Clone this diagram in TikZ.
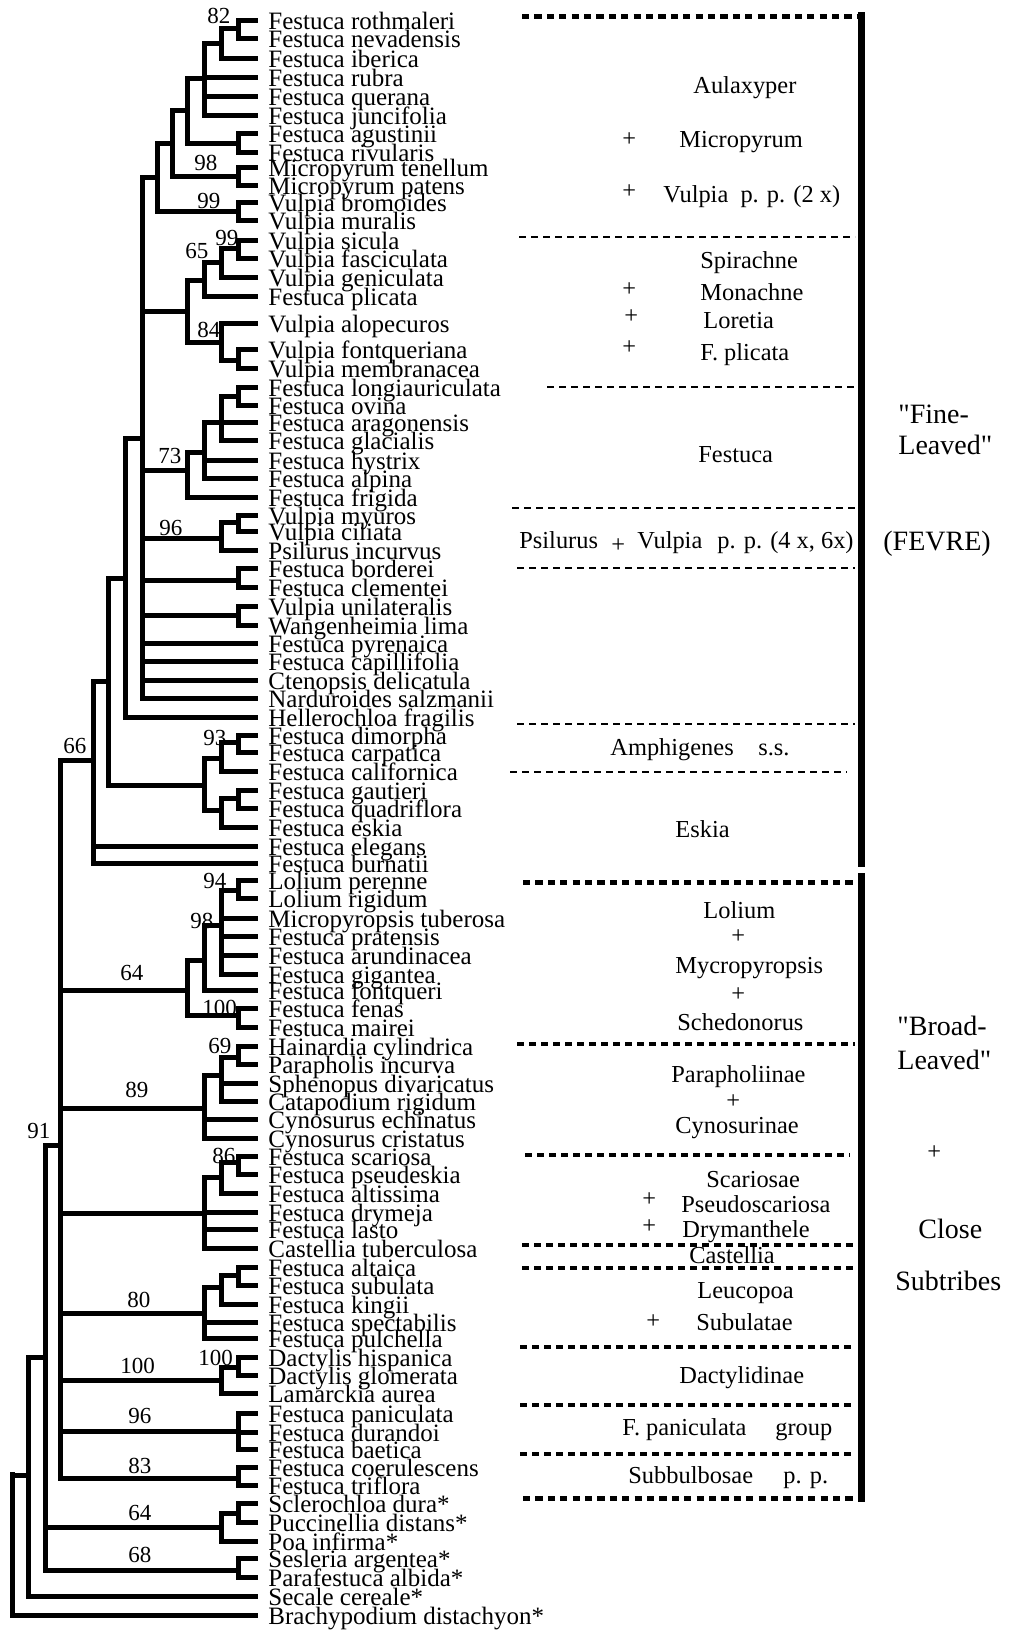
\documentclass[tikz,border=0pt]{standalone}
\usepackage{fontspec}
\setmainfont{Liberation Serif}
\newfontfamily\qfont{Liberation Serif}
\begin{document}
\begin{tikzpicture}[x=0.5pt,y=-0.5pt,
  tree/.style={line width=2.5pt,line cap=rect,line join=miter},
  leaf/.style={font=\fontsize{12.5}{14}\selectfont,inner sep=0pt,anchor=base west},
  grp/.style={font=\fontsize{12.2}{14}\selectfont,inner sep=0pt,anchor=base west},
  big/.style={font=\qfont\fontsize{14}{16}\selectfont,inner sep=0pt,anchor=base west},
  boot/.style={font=\fontsize{11.5}{13}\selectfont,inner sep=0pt,anchor=base west},
  thinsep/.style={line width=1.15pt,dash pattern=on 3.5pt off 2.5pt},
  midsep/.style={line width=2pt,dash pattern=on 3.5pt off 2.5pt},
  heavysep/.style={line width=2.5pt,dash pattern=on 3.6pt off 2.6pt},
  bar/.style={line width=3.5pt}
]
\useasboundingbox (0,0) rectangle (1011,1630);
\fill[white] (0,0) rectangle (1011,1630);

% leaves
\foreach \n/\y/\t in {
1/20/Festuca rothmaleri,
2/38/Festuca nevadensis,
3/58/Festuca iberica,
4/77/Festuca rubra,
5/96/Festuca querana,
6/115/Festuca juncifolia,
7/133/Festuca agustinii,
8/152/Festuca rivularis,
9/167/Micropyrum tenellum,
10/185/Micropyrum patens,
11/202/Vulpia bromoides,
12/220/Vulpia muralis,
13/240/Vulpia sicula,
14/258/Vulpia fasciculata,
15/277/Vulpia geniculata,
16/296/Festuca plicata,
17/323/Vulpia alopecuros,
18/349/Vulpia fontqueriana,
19/368/Vulpia membranacea,
20/387/Festuca longiauriculata,
21/405/Festuca ovina,
22/422/Festuca aragonensis,
23/440/Festuca glacialis,
24/460/Festuca hystrix,
25/478/Festuca alpina,
26/497/Festuca frigida,
27/515/Vulpia myuros,
28/531/Vulpia ciliata,
29/550/Psilurus incurvus,
30/568/Festuca borderei,
31/587/Festuca clementei,
32/606/Vulpia unilateralis,
33/625/Wangenheimia lima,
34/643/Festuca pyrenaica,
35/661/Festuca capillifolia,
36/680/Ctenopsis delicatula,
37/698/Narduroides salzmanii,
38/717/Hellerochloa fragilis,
39/735/Festuca dimorpha,
40/752/Festuca carpatica,
41/771/Festuca californica,
42/790/Festuca gautieri,
43/808/Festuca quadriflora,
44/827/Festuca eskia,
45/846/Festuca elegans,
46/863/Festuca burnatii,
47/880/Lolium perenne,
48/898/Lolium rigidum,
49/918/Micropyropsis tuberosa,
50/936/Festuca pratensis,
51/955/Festuca arundinacea,
52/974/Festuca gigantea,
53/990/Festuca fontqueri,
54/1008/Festuca fenas,
55/1027/Festuca mairei,
56/1046/Hainardia cylindrica,
57/1064/Parapholis incurva,
58/1083/Sphenopus divaricatus,
59/1101/Catapodium rigidum,
60/1119/Cynosurus echinatus,
61/1138/Cynosurus cristatus,
62/1156/Festuca scariosa,
63/1174/Festuca pseudeskia,
64/1193/Festuca altissima,
65/1212/Festuca drymeja,
66/1229/Festuca lasto,
67/1248/Castellia tuberculosa,
68/1267/Festuca altaica,
69/1285/Festuca subulata,
70/1304/Festuca kingii,
71/1322/Festuca spectabilis,
72/1338/Festuca pulchella,
73/1357/Dactylis hispanica,
74/1375/Dactylis glomerata,
75/1393/Lamarckia aurea,
76/1413/Festuca paniculata,
77/1432/Festuca durandoi,
78/1449/Festuca baetica,
79/1467/Festuca coerulescens,
80/1485/Festuca triflora,
81/1503/Sclerochloa dura*,
82/1522/Puccinellia distans*,
83/1541/Poa infirma*,
84/1558/Sesleria argentea*,
85/1577/Parafestuca albida*,
86/1596/Secale cereale*,
87/1615/Brachypodium distachyon*}{
  \coordinate (l\n) at (255,\y);
  \node[leaf] (t\n) at (268,{\y+9.5}) {\t};
}

% internal nodes
\foreach \n/\x/\y in {
a1/238/28, a3/221/43, a4/204/78, a8/238/143, a5/187/110, a9/238/176, a6/172/143, a10/238/211, a7/157/177,
v4/238/248, v3/221/262, v2/204/280, v5/238/360, v6/221/342, v1/187/311,
f4/238/396, f3/221/422, f2/204/452, f1/187/470,
p2/238/522, p1/221/538, b1/238/580, b2/238/615,
B/142/438, C/125/578,
g1a/238/742, g1/221/758, g2a/238/798, g2/221/810, G/204/785, D/108/681, E/93/760,
L5/238/890, L3/221/925, L2/204/960, L4/238/1015, L1/187/990,
m3/238/1057, M2/221/1075, M1/204/1108,
n3/238/1162, N2/221/1177, N1/204/1213,
o3/238/1275, O2/221/1287, O1/204/1313,
p3/238/1367, P1/221/1380,
R1/238/1431, S1/238/1478,
H/60/1145,
q3/238/1513, Q1/221/1527, T1/238/1570,
I/45/1357, J/28/1475, K/12/1474}{
  \coordinate (\n) at (\x,\y);
}

% branches
\foreach \p/\cs in {
a1/{l1,l2}, a3/{a1,l3}, a4/{a3,l4,l5,l6}, a8/{l7,l8}, a5/{a4,a8}, a9/{l9,l10}, a6/{a5,a9}, a10/{l11,l12}, a7/{a6,a10},
v4/{l13,l14}, v3/{v4,l15}, v2/{v3,l16}, v5/{l18,l19}, v6/{l17,v5}, v1/{v2,v6},
f4/{l20,l21}, f3/{f4,l22,l23}, f2/{f3,l24,l25}, f1/{f2,l26},
p2/{l27,l28}, p1/{p2,l29}, b1/{l30,l31}, b2/{l32,l33},
B/{a7,v1,f1,p1,b1,b2,l34,l35,l36,l37},
C/{B,l38},
g1a/{l39,l40}, g1/{g1a,l41}, g2a/{l42,l43}, g2/{g2a,l44}, G/{g1,g2}, D/{C,G}, E/{D,l45,l46},
L5/{l47,l48}, L3/{L5,l49,l50,l51,l52}, L2/{L3,l53}, L4/{l54,l55}, L1/{L2,L4},
m3/{l56,l57}, M2/{m3,l58,l59}, M1/{M2,l60,l61},
n3/{l62,l63}, N2/{n3,l64}, N1/{N2,l65,l66,l67},
o3/{l68,l69}, O2/{o3,l70}, O1/{O2,l71,l72},
p3/{l73,l74}, P1/{p3,l75}, R1/{l76,l77,l78}, S1/{l79,l80},
H/{E,L1,M1,N1,O1,P1,R1,S1},
q3/{l81,l82}, Q1/{q3,l83}, T1/{l84,l85},
I/{H,Q1,T1}, J/{I,l86}, K/{J,l87}}{
  \foreach \c in \cs {\draw[tree] (\p) |- (\c);}
}

% bootstrap values
\foreach \k/\x/\y/\v in {
1/207/23/82, 2/194/170/98, 3/197/208/99, 4/215/245/99, 5/185/258/65, 6/197/337/84,
7/158/463/73, 8/159/535/96, 9/203/745/93, 10/63/753/66, 11/203/888/94, 12/190/928/98,
13/120/980/64, 14/202/1015/100, 15/208/1053/69, 16/125/1097/89, 17/27/1138/91,
18/212/1163/86, 19/127/1307/80, 20/198/1365/100, 21/120/1373/100, 22/128/1423/96,
23/128/1473/83, 24/128/1520/64, 25/128/1562/68}{
  \node[boot] (bs\k) at (\x,\y) {\v};
}

% separators
\draw[heavysep] (522,16) -- (857,16);
\draw[heavysep] (523,882) -- (857,882);
\draw[heavysep] (523,1498) -- (857,1498);
\draw[thinsep] (519,237) -- (855,237);
\draw[thinsep] (547,387) -- (855,387);
\draw[thinsep] (512,508) -- (855,508);
\draw[thinsep] (517,568) -- (855,568);
\draw[thinsep] (517,724) -- (855,724);
\draw[thinsep] (510,772) -- (847,772);
\draw[midsep] (517,1044) -- (855,1044);
\draw[midsep] (525,1155) -- (850,1155);
\draw[midsep] (522,1245) -- (855,1245);
\draw[midsep] (522,1268) -- (855,1268);
\draw[midsep] (520,1347) -- (855,1347);
\draw[midsep] (520,1405) -- (855,1405);
\draw[midsep] (520,1454) -- (855,1454);
\draw[bar] (861,12) -- (861,867);
\draw[bar] (861,873) -- (861,1502);

% group labels
\node[grp] (g01) at (693,93) {Aulaxyper};
\node[grp] (g02) at (622,146) {+};
\node[grp] (g03) at (679,147) {Micropyrum};
\node[grp] (g04) at (622,198) {+};
\node[grp] (g05) at (663,202) {Vulpia~~p. p. (2 x)};
\node[grp] (g06) at (700,268) {Spirachne};
\node[grp] (g07) at (622,296) {+};
\node[grp] (g08) at (700,300) {Monachne};
\node[grp] (g09) at (624,323) {+};
\node[grp] (g10) at (703,328) {Loretia};
\node[grp] (g11) at (622,354) {+};
\node[grp] (g12) at (700,360) {F. plicata};
\node[grp] (g13) at (698,462) {Festuca};
\node[grp] (g14) at (519,548) {Psilurus};
\node[grp] (g15) at (611,552) {+};
\node[grp] (g16) at (637,548) {Vulpia};
\node[grp] (g17) at (717,548) {p. p. (4 x, 6x)};
\node[grp] (g18) at (610,755) {Amphigenes};
\node[grp] (g19) at (758,755) {s.s.};
\node[grp] (g20) at (675,837) {Eskia};
\node[grp] (g21) at (703,918) {Lolium};
\node[grp] (g22) at (731,943) {+};
\node[grp] (g23) at (675,973) {Mycropyropsis};
\node[grp] (g24) at (731,1001) {+};
\node[grp] (g25) at (677,1030) {Schedonorus};
\node[grp] (g26) at (671,1082) {Parapholiinae};
\node[grp] (g27) at (726,1108) {+};
\node[grp] (g28) at (675,1133) {Cynosurinae};
\node[grp] (g29) at (706,1187) {Scariosae};
\node[grp] (g30) at (642,1206) {+};
\node[grp] (g31) at (681,1212) {Pseudoscariosa};
\node[grp] (g32) at (642,1233) {+};
\node[grp] (g33) at (682,1237) {Drymanthele};
\node[grp] (g34) at (689,1263) {Castellia};
\node[grp] (g35) at (697,1298) {Leucopoa};
\node[grp] (g36) at (646,1328) {+};
\node[grp] (g37) at (696,1330) {Subulatae};
\node[grp] (g38) at (679,1383) {Dactylidinae};
\node[grp] (g39) at (622,1435) {F. paniculata};
\node[grp] (g40) at (775,1435) {group};
\node[grp] (g41) at (628,1483) {Subbulbosae};
\node[grp] (g42) at (783,1483) {p. p.};

% big labels
\node[big] (h1) at (898,423) {"Fine-};
\node[big] (h2) at (898,454) {Leaved"};
\node[big] (h3) at (883,550) {(FEVRE)};
\node[big] (h4) at (897,1035) {"Broad-};
\node[big] (h5) at (897,1069) {Leaved"};
\node[grp] (h6) at (927,1159) {+};
\node[big] (h7) at (918,1238) {Close};
\node[big] (h8) at (895,1290) {Subtribes};
\end{tikzpicture}
\end{document}
